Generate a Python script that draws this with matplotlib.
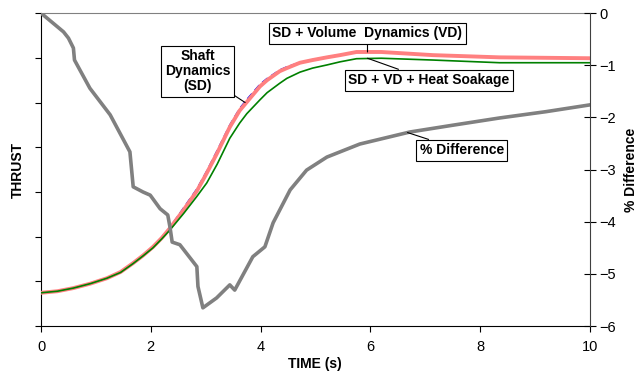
import numpy as np
import matplotlib.pyplot as plt

plt.rcParams['font.family'] = ['Liberation Sans', 'DejaVu Sans']

# Thrust curves (arbitrary units on the left axis)
t_thrust = [0, 0.3, 0.59, 0.9, 1.2, 1.45, 1.68, 1.86, 2.04, 2.2, 2.35, 2.6, 2.84, 3.02, 3.21,
            3.44, 3.62, 3.75, 3.99, 4.12, 4.35, 4.48, 4.72, 4.95, 5.21, 5.45, 5.75, 6.2,
            7.14, 8.36, 9.2, 10]
sd = [0.745, 0.78, 0.85, 0.95, 1.07, 1.21, 1.41, 1.59, 1.79, 1.99, 2.21, 2.65, 3.07, 3.47, 3.93,
      4.5, 4.87, 5.07, 5.41, 5.54, 5.73, 5.8, 5.9, 5.96, 6.02, 6.07, 6.13, 6.13,
      6.06, 6.01, 6.0, 5.99]
sd_vd = [0.745, 0.78, 0.85, 0.95, 1.07, 1.21, 1.41, 1.58, 1.77, 1.97, 2.19, 2.6, 3.02, 3.42, 3.87,
         4.45, 4.82, 5.01, 5.36, 5.5, 5.7, 5.77, 5.89, 5.95, 6.01, 6.06, 6.13, 6.13,
         6.06, 6.01, 6.0, 5.99]
sd_vd_hs = [0.745, 0.78, 0.85, 0.95, 1.07, 1.2, 1.4, 1.57, 1.75, 1.95, 2.15, 2.52, 2.9, 3.2, 3.62,
            4.2, 4.54, 4.75, 5.06, 5.22, 5.43, 5.54, 5.68, 5.77, 5.84, 5.91, 5.98, 5.99,
            5.95, 5.89, 5.89, 5.89]

# Percentage difference (right axis)
t_diff = [0, 0.41, 0.5, 0.59, 0.61, 0.89, 1.26, 1.62, 1.68, 1.86, 1.99, 2.17, 2.31, 2.35, 2.39,
          2.53, 2.84, 2.86, 2.95, 3.2, 3.44, 3.53, 3.86, 4.08, 4.23, 4.54, 4.84, 5.21, 5.45,
          5.81, 6.72, 7.5, 8.36, 9.2, 10]
diff = [0, -0.36, -0.48, -0.67, -0.9, -1.44, -1.95, -2.66, -3.33, -3.43, -3.49, -3.75, -3.87, -4.1, -4.39,
        -4.44, -4.86, -5.24, -5.65, -5.46, -5.21, -5.31, -4.67, -4.48, -4.02, -3.39, -3.01, -2.76, -2.66,
        -2.51, -2.28, -2.15, -2.01, -1.89, -1.76]

fig = plt.figure(figsize=(6.41, 3.85), dpi=100)
ax = fig.add_axes([0.064, 0.153, 0.856, 0.813])
ax2 = ax.twinx()

ax.plot(t_thrust, sd, color='#0000FF', lw=1, ls=(0, (5, 3)), zorder=2)
ax.plot(t_thrust, sd_vd, color='#FF8080', lw=2.8, zorder=3)
ax.plot(t_thrust, sd_vd_hs, color='#008000', lw=1.2, zorder=4)
ax2.plot(t_diff, diff, color='#808080', lw=2.6)

ax.set_xlim(0, 10)
ax.set_ylim(0, 7)
ax.set_xticks(np.arange(0, 11, 2))
ax.set_yticks(np.arange(0, 8, 1))
ax.set_yticklabels([])
ax.tick_params(axis='both', direction='out', length=4, labelsize=10.5)
ax.tick_params(axis='x', pad=6)
ax.spines['top'].set_color('#808080')
ax.spines['right'].set_visible(False)

ax2.set_ylim(-6, 0)
ax2.set_yticks(np.arange(-6, 1, 1))
ax2.tick_params(axis='y', direction='inout', length=8, labelsize=10.5, pad=3)
ax2.spines['top'].set_visible(False)
ax2.spines['left'].set_visible(False)
ax2.spines['bottom'].set_visible(False)
ax2.spines['right'].set_color('#404040')

ax.set_xlabel('TIME (s)', fontsize=10, fontweight='bold', labelpad=2)
ax.set_ylabel('THRUST', fontsize=10, fontweight='bold', labelpad=4)
ax2.set_ylabel('% Difference', fontsize=10, fontweight='bold', labelpad=6)

box = dict(boxstyle='square,pad=0.25', fc='white', ec='black', lw=0.8)
arrow = dict(arrowstyle='-', color='black', lw=0.8, shrinkA=0, shrinkB=0)
ax.annotate('Shaft\nDynamics\n(SD)', xy=(3.72, 5.0), xytext=(2.85, 5.7),
            ha='center', va='center', fontsize=10, fontweight='bold',
            linespacing=1.1, bbox=box, arrowprops=arrow, zorder=5)
ax.annotate('SD + Volume  Dynamics (VD)', xy=(5.95, 6.13), xytext=(5.95, 6.55),
            ha='center', va='center', fontsize=10, fontweight='bold',
            bbox=box, arrowprops=arrow, zorder=5)
ax.annotate('SD + VD + Heat Soakage', xy=(5.95, 5.99), xytext=(7.07, 5.5),
            ha='center', va='center', fontsize=10, fontweight='bold',
            bbox=box, arrowprops=arrow, zorder=5)
ax2.annotate('% Difference', xy=(6.68, -2.29), xytext=(7.67, -2.63),
             ha='center', va='center', fontsize=10, fontweight='bold',
             bbox=box, arrowprops=arrow, zorder=5)

fig.savefig('out.png', dpi=100)
